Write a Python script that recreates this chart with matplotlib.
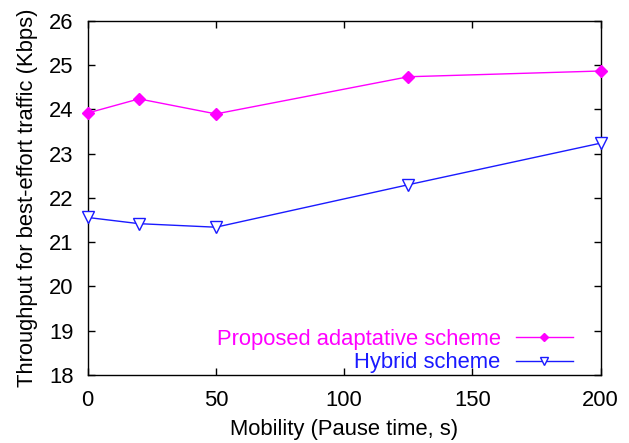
import matplotlib
matplotlib.use("Agg")
import matplotlib.pyplot as plt

pause_time = [0, 20, 50, 125, 200]
proposed = [23.92, 24.24, 23.90, 24.74, 24.87]
hybrid = [21.56, 21.42, 21.34, 22.30, 23.24]

x_ticks = [0, 50, 100, 150, 200]
y_ticks = [18, 19, 20, 21, 22, 23, 24, 25, 26]

plt.rcParams['font.family'] = ['Liberation Sans', 'DejaVu Sans']
fs = 15.8

fig = plt.figure(figsize=(6.29, 4.43), dpi=100)
ax = fig.add_axes([0.1394, 0.1535, 0.9550 - 0.1394, 0.9526 - 0.1535])

ax.plot(pause_time, proposed, color='#ff00ff', lw=1.0, marker='D', ms=6,
        markerfacecolor='#ff00ff', markeredgecolor='#ff00ff',
        label='Proposed adaptative scheme', clip_on=False, zorder=3)
ax.plot(pause_time, hybrid, color='#1a1aff', lw=1.0, marker='v', ms=8,
        markerfacecolor='white', markeredgecolor='#1a1aff', markeredgewidth=1.0,
        label='Hybrid scheme', clip_on=False, zorder=3)

ax.set_xlim(0, 200)
ax.set_ylim(18, 26)
ax.set_xticks(x_ticks)
ax.set_yticks(y_ticks)
ax.tick_params(direction='in', top=True, right=True, length=5, width=1,
               labelsize=fs)
ax.tick_params(axis='x', pad=10.5)
ax.tick_params(axis='y', pad=10)
for s in ax.spines.values():
    s.set_linewidth(1.0)

ax.set_xlabel('Mobility (Pause time, s)', fontsize=fs, labelpad=6)
ax.set_ylabel('Throughput for best-effort traffic (Kbps)', fontsize=fs, labelpad=8)

leg = ax.legend(loc='lower right', bbox_to_anchor=(0.946, 0.005),
                frameon=False, markerfirst=False, markerscale=0.75,
                fontsize=fs, handlelength=2.6, labelspacing=0.1,
                borderaxespad=0, borderpad=0, handletextpad=0.7)
for t, c in zip(leg.get_texts(), ['#ff00ff', '#1a1aff']):
    t.set_color(c)
    t.set_ha('right')
leg._legend_box.align = 'right'

fig.savefig('out.png', dpi=100)
